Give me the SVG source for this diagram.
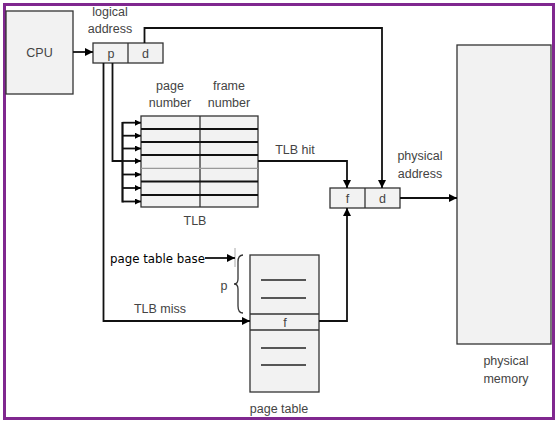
<svg xmlns="http://www.w3.org/2000/svg" width="559" height="424" viewBox="0 0 559 424">
<style>
.box{fill:#f2f2f2;stroke:#333;stroke-width:1.3}
.ln{fill:none;stroke:#111;stroke-width:1.8}
.thin{fill:none;stroke:#333;stroke-width:1.3}
.lbl{font-family:"Liberation Sans",Arial,sans-serif;font-size:12.5px;fill:#444;text-anchor:middle}
.blk{font-family:"DejaVu Sans",sans-serif;font-size:11.8px;fill:#000}
</style>
<defs>
<marker id="ah" viewBox="0 0 10 10" refX="10" refY="5" markerWidth="9" markerHeight="8" markerUnits="userSpaceOnUse" orient="auto">
<path d="M0,0 L10,5 L0,10 z" fill="#000"/>
</marker>
<marker id="ahs" viewBox="0 0 10 10" refX="10" refY="5" markerWidth="7" markerHeight="6" markerUnits="userSpaceOnUse" orient="auto">
<path d="M0,0 L10,5 L0,10 z" fill="#000"/>
</marker>
</defs>
<rect x="0" y="0" width="559" height="424" fill="#fff"/>
<rect x="4.5" y="4.5" width="549" height="414" fill="#fff" stroke="#80288f" stroke-width="3"/>

<g id="cpu">
<rect class="box" x="6" y="11" width="67" height="83"/>
<text class="lbl" x="39.5" y="57">CPU</text>
</g>

<g id="logical-address">
<rect class="box" x="93" y="43" width="70" height="20"/>
<line class="thin" x1="128" y1="43" x2="128" y2="63"/>
<text class="lbl" x="111" y="58">p</text>
<text class="lbl" x="145.5" y="58">d</text>
<text class="lbl" x="110" y="16">logical</text>
<text class="lbl" x="110" y="33">address</text>
</g>

<g id="tlb">
<rect class="box" x="141" y="116" width="117" height="91"/>
<line class="thin" x1="200" y1="116" x2="200" y2="207"/>
<g stroke="#111" stroke-width="1.8">
<line x1="141" y1="129" x2="258" y2="129"/>
<line x1="141" y1="142" x2="258" y2="142"/>
<line x1="141" y1="155" x2="258" y2="155"/>
<line x1="141" y1="181.5" x2="258" y2="181.5"/>
<line x1="141" y1="195" x2="258" y2="195"/>
</g>
<line x1="141" y1="168.3" x2="258" y2="168.3" stroke="#999" stroke-width="1.3"/>
<text class="lbl" x="170" y="90">page</text>
<text class="lbl" x="170" y="107">number</text>
<text class="lbl" x="229" y="90">frame</text>
<text class="lbl" x="229" y="107">number</text>
<text class="lbl" x="195" y="225">TLB</text>
</g>

<g id="physical-address">
<rect class="box" x="330" y="188" width="70" height="20"/>
<line class="thin" x1="365" y1="188" x2="365" y2="208"/>
<text class="lbl" x="347.5" y="203">f</text>
<text class="lbl" x="382.5" y="203">d</text>
<text class="lbl" x="420" y="160">physical</text>
<text class="lbl" x="420" y="178">address</text>
</g>

<g id="physical-memory">
<rect class="box" x="457" y="45" width="94" height="299"/>
<text class="lbl" x="506" y="365">physical</text>
<text class="lbl" x="506" y="383">memory</text>
</g>

<g id="page-table">
<rect class="box" x="250" y="255" width="69" height="137"/>
<line class="thin" x1="250" y1="314" x2="319" y2="314"/>
<line class="thin" x1="250" y1="330" x2="319" y2="330" stroke-width="1.8"/>
<g stroke="#222" stroke-width="1.6">
<line x1="261" y1="280" x2="306" y2="280"/>
<line x1="261" y1="298" x2="306" y2="298"/>
<line x1="261" y1="348" x2="306" y2="348"/>
<line x1="261" y1="365" x2="306" y2="365"/>
</g>
<text class="lbl" x="285" y="327">f</text>
<text class="lbl" x="279" y="413">page table</text>
<path class="thin" d="M243,255 Q238,255 238,262 L238,279 Q238,284 234,284 Q238,284 238,289 L238,306 Q238,313 243,313" stroke="#444" stroke-width="1"/>
<text class="lbl" x="224" y="290">p</text>
</g>

<g id="page-table-base">
<text class="blk" x="110" y="263">page table base</text>
<line x1="235" y1="248" x2="235" y2="267" stroke="#aaa" stroke-width="1"/>
</g>

<g id="connectors">
<line class="ln" x1="73" y1="52" x2="93" y2="52" marker-end="url(#ah)"/>
<polyline class="ln" points="144.5,43 144.5,28 382,28 382,188" marker-end="url(#ah)"/>
<polyline class="ln" points="258,161 347,161 347,188" marker-end="url(#ah)"/>
<line class="ln" x1="400" y1="198" x2="457" y2="198" marker-end="url(#ah)"/>
<polyline class="ln" points="112.5,63 112.5,161 122.5,161"/>
<line x1="122.5" y1="122" x2="122.5" y2="202.5" stroke="#111" stroke-width="2.2"/>
<g class="ln" stroke-width="1.6">
<line x1="122.5" y1="122.7" x2="141" y2="122.7" marker-end="url(#ahs)"/>
<line x1="122.5" y1="135.7" x2="141" y2="135.7" marker-end="url(#ahs)"/>
<line x1="122.5" y1="148.5" x2="141" y2="148.5" marker-end="url(#ahs)"/>
<line x1="122.5" y1="161" x2="141" y2="161" marker-end="url(#ahs)"/>
<line x1="122.5" y1="174.5" x2="141" y2="174.5" marker-end="url(#ahs)"/>
<line x1="122.5" y1="188" x2="141" y2="188" marker-end="url(#ahs)"/>
<line x1="122.5" y1="201.5" x2="141" y2="201.5" marker-end="url(#ahs)"/>
</g>
<polyline class="ln" points="103.5,63 103.5,321 250,321" marker-end="url(#ah)"/>
<polyline class="ln" points="319,321 347,321 347,208" marker-end="url(#ah)"/>
<line class="ln" x1="205" y1="258" x2="235" y2="258" marker-end="url(#ah)"/>
<text class="lbl" x="295" y="154">TLB hit</text>
<text class="lbl" x="160" y="313">TLB miss</text>
</g>
</svg>
